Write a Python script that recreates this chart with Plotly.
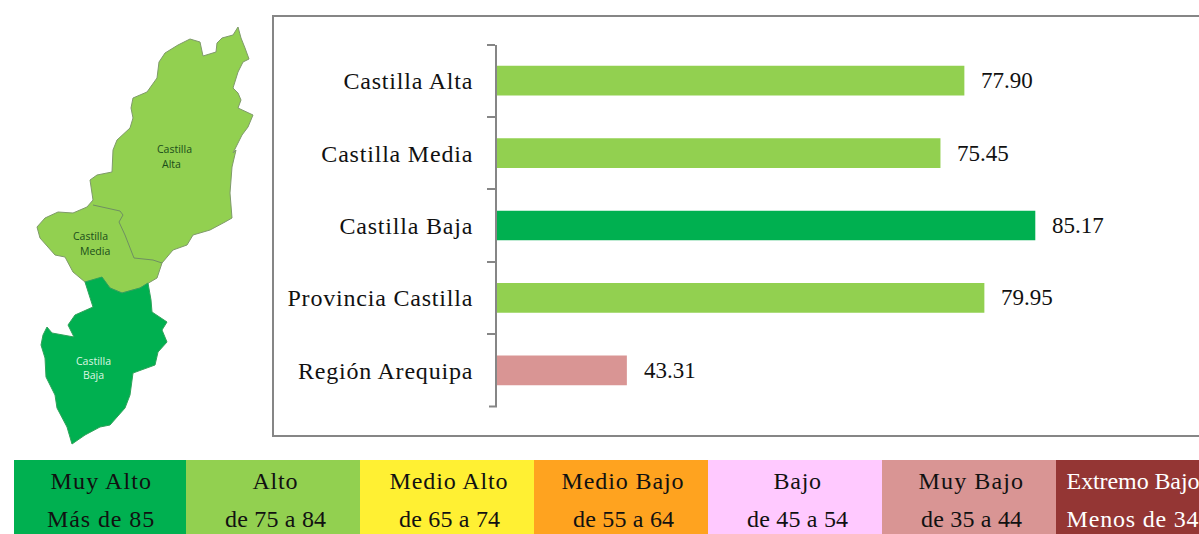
import json
import plotly.graph_objects as go

W, H = 1199, 534

# ---- data ----
categories = ["Castilla Alta", "Castilla Media", "Castilla Baja", "Provincia Castilla", "Región Arequipa"]
values = [77.90, 75.45, 85.17, 79.95, 43.31]
bar_colors = ["#92D050", "#92D050", "#00B050", "#92D050", "#D99594"]

legend_names = ["Muy Alto", "Alto", "Medio Alto", "Medio Bajo", "Bajo", "Muy Bajo", "Extremo Bajo"]
legend_ranges = ["Más de 85", "de 75 a 84", "de 65 a 74", "de 55 a 64", "de 45 a 54", "de 35 a 44", "Menos de 34"]
legend_colors = ["#00B050", "#92D050", "#FFF033", "#FFA31F", "#FFC9FF", "#D99594", "#943634"]
legend_text = ["#111111"] * 6 + ["#FFFFFF"]
legend_slots = [0, 1, 2, 3, 4, 5, 6]
legend_fill = [1, 1, 1, 1, 1, 1, 1]

# map outlines
north_x = [238,241,245,249,243,238,233,238,241,238,253,248,242,233,236,232,230,232,225,210,193,187,173,162,157,148,140,122,110,102,85,73,65,55,40,37,45,58,73,87,93,90,97,112,113,117,130,133,131,133,147,157,159,165,178,190,200,203,216,217,222,233,238]
north_y = [27,38,48,59,62,72,88,93,100,108,115,127,135,153,150,167,193,218,222,230,235,245,250,263,278,283,288,293,288,278,282,272,257,255,238,227,218,212,213,207,200,180,175,172,150,140,128,118,108,98,92,78,62,53,45,39,42,56,52,43,38,35,27]
south_x = [85,102,110,122,140,148,151,152,167,162,167,158,155,133,130,125,110,100,85,72,67,57,55,46,45,41,43,47,52,74,68,75,93,88,85]
south_y = [282,277,288,293,288,283,300,312,322,330,342,352,365,373,395,408,425,427,435,444,427,408,395,377,358,345,335,327,333,337,325,315,307,292,282]
inner_x = [93,120,123,119,125,130,134,153,162]
inner_y = [205,211,215,222,235,247,258,260,263]
map_labels = ["Castilla", "Alta", "Castilla", "Media", "Castilla", "Baja"]
map_label_x = [174,171,90,95,93,93]
map_label_y = [149,164,236,251,361,375]
map_label_colors = ["#1A4D1A","#1A4D1A","#1A4D1A","#1A4D1A","#DDF7E2","#DDF7E2"]

SERIF = "Liberation Serif"
INK = "#111111"
GRAY = "#868686"
STEP = 174

# per-text tracking of the reference's typesetting
tracking = {
    "Castilla Alta": 0.8, "Castilla Media": 0.8, "Castilla Baja": 0.8,
    "Provincia Castilla": 0.8, "Región Arequipa": 0.8,
    "Muy Alto": 1.1, "Alto": 0.8, "Medio Alto": 0.9, "Medio Bajo": 0.9, "Bajo": 0.8,
    "Muy Bajo": 1.1, "Extremo Bajo": -0.1,
    "Más de 85": 0.9, "de 75 a 84": 0.2, "de 65 a 74": 0.2, "de 55 a 64": 0.2,
    "de 45 a 54": 0.2, "de 35 a 44": 0.2, "Menos de 34": 0.8,
}

fig = go.Figure()

fig.add_trace(go.Bar(
    y=categories, x=values, orientation="h", marker=dict(color=bar_colors, line_width=0),
    xaxis="x", yaxis="y", showlegend=False, hoverinfo="skip"))

fig.add_trace(go.Bar(
    x=legend_slots, y=legend_fill, width=1, marker=dict(color=legend_colors, line_width=0),
    xaxis="x2", yaxis="y2", showlegend=False, hoverinfo="skip"))

fig.add_trace(go.Scatter(
    x=north_x, y=north_y, mode="lines", fill="toself",
    fillcolor="#92D050", line=dict(color="#7F9A6A", width=1), xaxis="x3", yaxis="y3",
    showlegend=False, hoverinfo="skip"))
fig.add_trace(go.Scatter(
    x=south_x, y=south_y, mode="lines", fill="toself",
    fillcolor="#00B050", line=dict(color="#2FA35A", width=1), xaxis="x3", yaxis="y3",
    showlegend=False, hoverinfo="skip"))
fig.add_trace(go.Scatter(
    x=inner_x, y=inner_y, mode="lines",
    line=dict(color="#6F8F62", width=1), xaxis="x3", yaxis="y3",
    showlegend=False, hoverinfo="skip"))

ann = []
for c, v in zip(categories, values):
    ann.append(dict(x=v, y=c, xref="x", yref="y", text=f"{v:.2f}", showarrow=False,
                    xanchor="left", xshift=15, font=dict(family=SERIF, size=23, color=INK)))
for i, (a, b, col) in enumerate(zip(legend_names, legend_ranges, legend_text)):
    shift = -10 if i == 6 else 2
    ann.append(dict(x=legend_slots[i], y=0.71, xref="x2", yref="y2", text=a, showarrow=False,
                    xshift=shift, font=dict(family=SERIF, size=24, color=col)))
    ann.append(dict(x=legend_slots[i], y=0.20, xref="x2", yref="y2", text=b, showarrow=False,
                    xshift=shift, font=dict(family=SERIF, size=24, color=col)))
for t, x, y, col in zip(map_labels, map_label_x, map_label_y, map_label_colors):
    ann.append(dict(x=x, y=y, xref="x3", yref="y3", text=t, showarrow=False,
                    font=dict(family="Open Sans", size=10.5, color=col)))

fig.update_layout(
    width=W, height=H, autosize=False,
    margin=dict(l=0, r=0, t=0, b=0),
    paper_bgcolor="white", plot_bgcolor="rgba(0,0,0,0)",
    bargap=0.59,
    xaxis=dict(domain=[497 / W, 1180 / W], range=[30, 100], visible=False, anchor="y"),
    yaxis=dict(domain=[1 - 406.5 / H, 1 - 44.5 / H], type="category", autorange="reversed",
               categoryorder="array", categoryarray=categories, anchor="x",
               showline=True, linecolor=GRAY, linewidth=2, ticks="outside", ticklen=8,
               tickcolor=GRAY, tickwidth=2, tickson="boundaries", showgrid=False,
               ticklabelstandoff=17, tickfont=dict(family=SERIF, size=24, color=INK), zeroline=False),
    xaxis2=dict(domain=[14 / W, 1], range=[-0.5 + 2 / STEP, -0.5 + 1187 / STEP], visible=False, anchor="y2"),
    yaxis2=dict(domain=[0, 74 / H], range=[0, 1], visible=False, anchor="x2"),
    xaxis3=dict(domain=[0, 1], range=[0, W], visible=False, anchor="y3"),
    yaxis3=dict(domain=[0, 1], range=[H, 0], visible=False, anchor="x3"),
    shapes=[
        dict(type="rect", xref="x3", yref="y3", x0=273, x1=1215, y0=16, y1=436,
             line=dict(color=GRAY, width=2), fillcolor="rgba(0,0,0,0)", layer="below"),
        dict(type="line", xref="x3", yref="y3", x0=489, x1=497, y0=406.5, y1=406.5,
             line=dict(color=GRAY, width=2)),
    ],
    annotations=ann,
)

post = """
document.body.style.margin = '0';
document.body.style.overflow = 'hidden';
(function () {
  var gd = document.getElementById('{plot_id}');
  var tracking = TRACKING;
  function spacing() {
    gd.querySelectorAll('.ytick text, .annotation-text').forEach(function (t) {
      var s = tracking[t.textContent];
      var big = parseFloat(t.style.fontSize) >= 20;
      if (s !== undefined && big) { t.style.letterSpacing = s + 'px'; }
    });
  }
  spacing();
  gd.on('plotly_afterplot', spacing);
})();
""".replace("TRACKING", json.dumps(tracking, ensure_ascii=False))

fig.write_html("out.html", config=dict(displayModeBar=False), post_script=post)
